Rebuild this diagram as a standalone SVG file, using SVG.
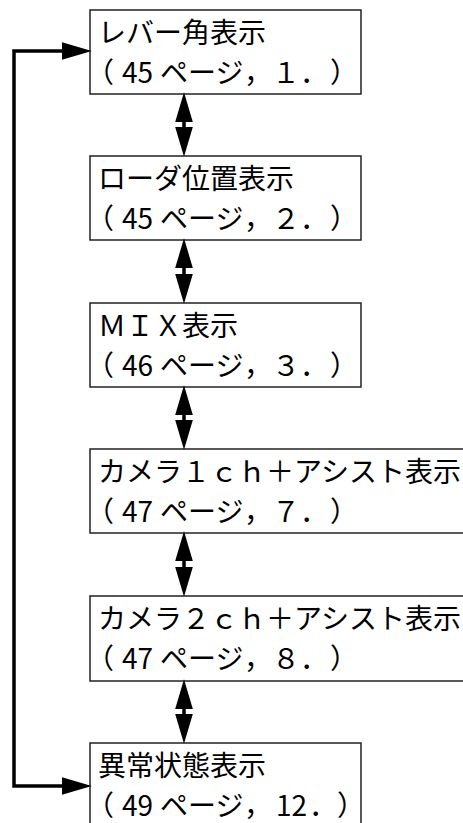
<svg xmlns="http://www.w3.org/2000/svg" width="463" height="823" viewBox="0 0 463 823">
<style>
.box{fill:#fff;stroke:#222;stroke-width:1.5}
.t{font-family:"Noto Sans CJK JP","Noto Sans",sans-serif;font-size:28px;fill:#000}
.c{fill:none;stroke:#000;stroke-width:3.5;stroke-linejoin:miter}
.d{fill:none;stroke:#000;stroke-width:3.5}
</style>
<defs>
<marker id="ah" markerUnits="userSpaceOnUse" markerWidth="30" markerHeight="18" refX="2" refY="8" orient="auto-start-reverse" viewBox="0 0 27 16">
<path d="M0,0 L27,8 L0,16 z" fill="#000"/>
</marker>
</defs>
<g id="n1"><rect class="box" x="90" y="10" width="271" height="84"/><text class="t" x="98" y="43">レバー角表示</text><text class="t" y="83"><tspan x="86">（</tspan><tspan x="122">45</tspan><tspan x="160">ページ</tspan><tspan x="244">，</tspan><tspan x="272">１</tspan><tspan x="300">．</tspan><tspan x="330">）</tspan></text></g>
<g id="n2"><rect class="box" x="90" y="156" width="271" height="84"/><text class="t" x="98" y="189">ローダ位置表示</text><text class="t" y="229"><tspan x="86">（</tspan><tspan x="122">45</tspan><tspan x="160">ページ</tspan><tspan x="244">，</tspan><tspan x="272">２</tspan><tspan x="300">．</tspan><tspan x="330">）</tspan></text></g>
<g id="n3"><rect class="box" x="90" y="303" width="271" height="84"/><text class="t" x="98" y="336">ＭＩＸ表示</text><text class="t" y="376"><tspan x="86">（</tspan><tspan x="122">46</tspan><tspan x="160">ページ</tspan><tspan x="244">，</tspan><tspan x="272">３</tspan><tspan x="300">．</tspan><tspan x="330">）</tspan></text></g>
<g id="n4"><rect class="box" x="90" y="449" width="380" height="84"/><text class="t" x="98" y="482">カメラ１ｃｈ＋アシスト表示</text><text class="t" y="522"><tspan x="86">（</tspan><tspan x="122">47</tspan><tspan x="160">ページ</tspan><tspan x="244">，</tspan><tspan x="272">７</tspan><tspan x="300">．</tspan><tspan x="330">）</tspan></text></g>
<g id="n5"><rect class="box" x="90" y="596" width="380" height="85"/><text class="t" x="98" y="629">カメラ２ｃｈ＋アシスト表示</text><text class="t" y="669"><tspan x="86">（</tspan><tspan x="122">47</tspan><tspan x="160">ページ</tspan><tspan x="244">，</tspan><tspan x="272">８</tspan><tspan x="300">．</tspan><tspan x="330">）</tspan></text></g>
<g id="n6"><rect class="box" x="90" y="743" width="271" height="90"/><text class="t" x="98" y="776">異常状態表示</text><text class="t" y="816"><tspan x="86">（</tspan><tspan x="122">49</tspan><tspan x="160">ページ</tspan><tspan x="244">，</tspan><tspan x="276">12</tspan><tspan x="309">．</tspan><tspan x="337">）</tspan></text></g>
<g id="connectors">
<path class="c" d="M64,51 H14 V786 H64" marker-start="url(#ah)" marker-end="url(#ah)"/>
<line class="d" x1="184" y1="120" x2="184" y2="129" marker-start="url(#ah)" marker-end="url(#ah)"/>
<line class="d" x1="184" y1="266" x2="184" y2="276" marker-start="url(#ah)" marker-end="url(#ah)"/>
<line class="d" x1="184" y1="413" x2="184" y2="422" marker-start="url(#ah)" marker-end="url(#ah)"/>
<line class="d" x1="184" y1="559" x2="184" y2="569" marker-start="url(#ah)" marker-end="url(#ah)"/>
<line class="d" x1="184" y1="707" x2="184" y2="716" marker-start="url(#ah)" marker-end="url(#ah)"/>
</g>
</svg>
